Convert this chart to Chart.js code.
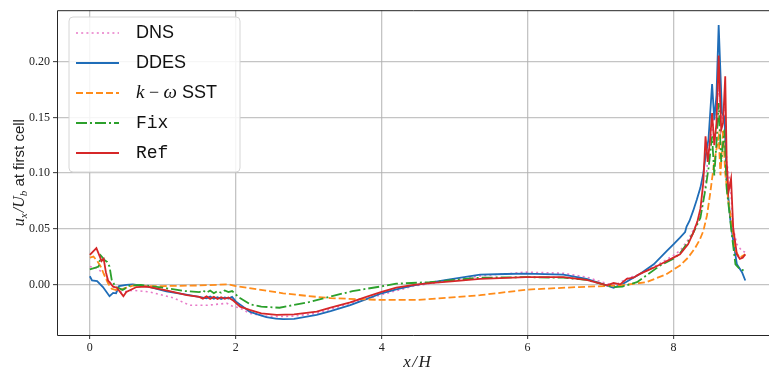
<!DOCTYPE html>
<html>
<head>
<meta charset="utf-8">
<script src="https://cdn.jsdelivr.net/npm/chart.js@4/dist/chart.umd.min.js"></script>
<style>
  html, body { margin: 0; padding: 0; background: #fff; }
  canvas { display: block; }
</style>
</head>
<body>
<canvas id="c" width="769" height="373"></canvas>
<script>
// series names, in legend order
const seriesNames = ['DNS', 'DDES', 'k − ω SST', 'Fix', 'Ref'];

const xTicks = [0, 2, 4, 6, 8];
const yTicks = [0.00, 0.05, 0.10, 0.15, 0.20];

// DNS
const dnsX = [0, 0.1, 0.2, 0.3, 0.37, 0.45, 0.59, 0.82, 1.14, 1.37, 1.6, 1.88, 1.95, 2.05, 2.19, 2.4, 2.56, 2.8, 3.11, 3.57,
  4.0, 4.44, 5.0, 5.35, 5.98, 6.49, 6.81, 7.09, 7.2, 7.35, 7.54, 7.82, 8.0, 8.1, 8.2, 8.3, 8.37, 8.44, 8.48, 8.53,
  8.58, 8.62, 8.665, 8.70, 8.73, 8.78, 8.82, 8.87, 8.94, 8.985];
const dnsY = [0.016, 0.0146, 0.0088, 0.0, -0.0068, -0.007, -0.0053, -0.0068, -0.012, -0.0188, -0.0188, -0.017, -0.0195, -0.021, -0.026, -0.0285, -0.029, -0.0285, -0.026, -0.017,
  -0.0093, -0.0015, 0.004, 0.0076, 0.011, 0.010, 0.0065, 0.0006, -0.001, 0.005, 0.009, 0.019, 0.026, 0.031, 0.040, 0.052, 0.063, 0.09, 0.12, 0.139,
  0.157, 0.175, 0.148, 0.16, 0.11, 0.09, 0.05, 0.036, 0.030, 0.029];

// DDES
const ddesX = [0, 0.03, 0.1, 0.18, 0.27, 0.32, 0.36, 0.4, 0.5, 0.59, 0.8, 1.05, 1.3, 1.5, 1.6, 1.65, 1.7, 1.75, 1.8, 1.85,
  1.9, 1.95, 2.0, 2.1, 2.19, 2.3, 2.42, 2.55, 2.65, 2.8, 3.11, 3.3, 3.57, 3.8, 4.0, 4.2, 4.44, 4.89, 5.35, 5.7,
  5.98, 6.49, 6.81, 7.04, 7.18, 7.31, 7.54, 7.73, 7.91, 8.0, 8.09, 8.16, 8.18, 8.22, 8.27, 8.32, 8.37, 8.41, 8.44, 8.48,
  8.53, 8.56, 8.59, 8.62, 8.665, 8.70, 8.73, 8.78, 8.82, 8.87, 8.94, 8.985];
const ddesY = [0.0073, 0.0035, 0.003, -0.0024, -0.0106, -0.0077, -0.008, -0.0016, -0.0005, 0.0, -0.002, -0.0062, -0.009, -0.0112, -0.0125, -0.011, -0.013, -0.0115, -0.0132, -0.0118,
  -0.0127, -0.0112, -0.0153, -0.020, -0.0245, -0.027, -0.0295, -0.0308, -0.0313, -0.031, -0.0274, -0.024, -0.0186, -0.013, -0.008, -0.0045, -0.0009, 0.004, 0.0088, 0.0093,
  0.0097, 0.0088, 0.005, 0.0, -0.003, 0.0006, 0.0094, 0.018, 0.030, 0.036, 0.042, 0.047, 0.052, 0.057, 0.066, 0.076, 0.087, 0.100, 0.115, 0.13,
  0.18, 0.148, 0.17, 0.233, 0.154, 0.15, 0.095, 0.058, 0.039, 0.018, 0.011, 0.0035];

// k-omega SST
const kwX = [0, 0.05, 0.1, 0.15, 0.2, 0.25, 0.3, 0.35, 0.42, 0.5, 0.6, 0.7, 1.0, 1.5, 1.9, 2.0, 2.3, 2.65, 3.0, 3.3,
  4.0, 4.5, 5.35, 6.0, 6.7, 7.27, 7.63, 7.9, 8.09, 8.2, 8.3, 8.36, 8.41, 8.46, 8.5, 8.56, 8.62, 8.645, 8.68, 8.71,
  8.755, 8.8, 8.85, 8.91, 8.985];
const kwY = [0.024, 0.025, 0.021, 0.016, 0.008, 0.001, -0.004, -0.005, -0.005, -0.003, -0.001, -0.0015, -0.0015, -0.001, 0.0, -0.0015, -0.0045, -0.008, -0.0105, -0.0124,
  -0.014, -0.014, -0.0097, -0.0047, -0.0024, -0.001, 0.002, 0.009, 0.017, 0.024, 0.033, 0.040, 0.048, 0.062, 0.08, 0.11, 0.133, 0.098, 0.139, 0.10,
  0.074, 0.055, 0.03, 0.024, 0.027];

// Fix
const fixX = [0, 0.08, 0.12, 0.15, 0.2, 0.24, 0.27, 0.3, 0.35, 0.45, 0.55, 0.7, 1.0, 1.3, 1.5, 1.55, 1.6, 1.65, 1.7, 1.75,
  1.8, 1.85, 1.9, 1.95, 2.05, 2.2, 2.35, 2.6, 3.0, 3.3, 3.6, 3.98, 4.2, 4.66, 5.35, 5.98, 6.49, 6.81, 7.04, 7.18,
  7.3, 7.5, 7.82, 8.0, 8.09, 8.18, 8.27, 8.37, 8.44, 8.48, 8.53, 8.56, 8.59, 8.62, 8.655, 8.70, 8.73, 8.77, 8.80, 8.85,
  8.91, 8.985];
const fixY = [0.0135, 0.015, 0.016, 0.026, 0.022, 0.02, 0.016, 0.004, -0.002, -0.005, -0.001, -0.0005, -0.003, -0.006, -0.007, -0.0055, -0.0075, -0.0055, -0.008, -0.006,
  -0.0075, -0.0055, -0.007, -0.006, -0.012, -0.018, -0.020, -0.021, -0.016, -0.011, -0.006, -0.002, 0.0006, 0.002, 0.006, 0.0065, 0.006, 0.004, 0.0, -0.0024,
  -0.002, 0.002, 0.017, 0.023, 0.028, 0.036, 0.046, 0.060, 0.086, 0.104, 0.133, 0.098, 0.127, 0.163, 0.11, 0.139, 0.086, 0.063, 0.045, 0.018,
  0.0137, 0.012];

// Ref
const refX = [0, 0.09, 0.14, 0.16, 0.19, 0.22, 0.25, 0.32, 0.37, 0.46, 0.5, 0.64, 0.78, 1.05, 1.33, 1.5, 1.55, 1.6, 1.65, 1.7,
  1.75, 1.8, 1.85, 1.9, 1.97, 2.06, 2.19, 2.35, 2.56, 2.8, 3.11, 3.3, 3.57, 3.8, 4.0, 4.2, 4.44, 4.66, 5.0, 5.35,
  5.98, 6.49, 6.81, 7.09, 7.18, 7.27, 7.36, 7.45, 7.54, 7.73, 7.91, 8.0, 8.09, 8.2, 8.27, 8.33, 8.37, 8.41, 8.44, 8.47,
  8.5, 8.53, 8.56, 8.59, 8.62, 8.655, 8.68, 8.71, 8.73, 8.755, 8.79, 8.82, 8.87, 8.91, 8.95, 8.985];
const refY = [0.0265, 0.0325, 0.0245, 0.021, 0.023, 0.011, 0.0035, -0.002, -0.003, -0.0106, -0.0068, -0.0024, -0.002, -0.0053, -0.0097, -0.0112, -0.0128, -0.0108, -0.013, -0.0112,
  -0.0132, -0.0115, -0.013, -0.0118, -0.0147, -0.020, -0.023, -0.026, -0.0274, -0.027, -0.0245, -0.021, -0.0162, -0.011, -0.0068, -0.003, -0.0005, 0.0012, 0.003, 0.005,
  0.0065, 0.0065, 0.0041, -0.0009, 0.0012, 0.0, 0.005, 0.006, 0.0094, 0.015, 0.021, 0.024, 0.027, 0.036, 0.046, 0.057, 0.068, 0.092, 0.133, 0.11,
  0.128, 0.154, 0.125, 0.145, 0.2056, 0.139, 0.145, 0.187, 0.11, 0.083, 0.095, 0.05, 0.027, 0.023, 0.024, 0.027];

const pts = (xs, ys) => xs.map((x, i) => ({ x: x, y: ys[i] }));

const SERIF = '"Liberation Serif", "DejaVu Serif", serif';
const SANS = '"Liberation Sans", Arial, sans-serif';
const MONO = '"Liberation Mono", "DejaVu Sans Mono", monospace';

const styles = [
  { color: '#e87ac8', dash: [2, 3.2], width: 1.6 },
  { color: '#1f6db8', dash: [], width: 1.8 },
  { color: '#ff8c1a', dash: [7, 3], width: 1.8 },
  { color: '#2ca02c', dash: [11, 3, 2, 3], width: 1.8 },
  { color: '#d62728', dash: [], width: 1.8 }
];

const series = [pts(dnsX, dnsY), pts(ddesX, ddesY), pts(kwX, kwY), pts(fixX, fixY), pts(refX, refY)];

const datasets = series.map((d, i) => ({
  label: seriesNames[i],
  data: d,
  borderColor: styles[i].color,
  borderDash: styles[i].dash,
  borderWidth: styles[i].width,
  pointRadius: 0,
  fill: false,
  tension: 0,
  order: 4 - i
}));

// draw text made of pieces with different fonts
function richWidth(ctx, segs) {
  let w = 0;
  segs.forEach(s => { ctx.font = s.font; w += ctx.measureText(s.t).width + (s.gap || 0); });
  return w;
}
function drawRich(ctx, segs, x, y) {
  segs.forEach(s => {
    ctx.font = s.font;
    ctx.fillText(s.t, x, y + (s.dy || 0));
    x += ctx.measureText(s.t).width + (s.gap || 0);
  });
}

function legendSegs(name) {
  if (name.indexOf('ω') >= 0) {
    return [
      { t: 'k', font: 'italic 19px ' + SERIF },
      { t: ' − ', font: '18px ' + SERIF },
      { t: 'ω', font: 'italic 19px ' + SERIF },
      { t: ' SST', font: '18px ' + SANS }
    ];
  }
  if (name === 'Fix' || name === 'Ref') return [{ t: name, font: '18px ' + MONO }];
  return [{ t: name, font: '18px ' + SANS }];
}

const extras = {
  id: 'extras',
  afterDatasetsDraw(chart) {
    const ctx = chart.ctx;
    const a = chart.chartArea;
    ctx.save();
    // spines
    ctx.strokeStyle = '#262626';
    ctx.lineWidth = 1;
    ctx.beginPath();
    ctx.moveTo(a.right + 5, a.top + 0.5);
    ctx.lineTo(a.left + 0.5, a.top + 0.5);
    ctx.lineTo(a.left + 0.5, a.bottom + 0.5);
    ctx.lineTo(a.right + 5, a.bottom + 0.5);
    ctx.stroke();

    // legend
    const bx = 69, by = 17, bw = 171, bh = 155, r = 4;
    ctx.beginPath();
    ctx.moveTo(bx + r, by);
    ctx.arcTo(bx + bw, by, bx + bw, by + bh, r);
    ctx.arcTo(bx + bw, by + bh, bx, by + bh, r);
    ctx.arcTo(bx, by + bh, bx, by, r);
    ctx.arcTo(bx, by, bx + bw, by, r);
    ctx.closePath();
    ctx.fillStyle = 'rgba(255,255,255,0.85)';
    ctx.fill();
    ctx.strokeStyle = '#d6d6d6';
    ctx.lineWidth = 1;
    ctx.stroke();

    chart.data.datasets.forEach((ds, i) => {
      const yy = 33 + i * 30;
      ctx.strokeStyle = ds.borderColor;
      ctx.lineWidth = ds.borderWidth;
      ctx.setLineDash(ds.borderDash);
      ctx.beginPath();
      ctx.moveTo(76, yy);
      ctx.lineTo(119, yy);
      ctx.stroke();
      ctx.setLineDash([]);
      ctx.fillStyle = '#111';
      ctx.textBaseline = 'middle';
      drawRich(ctx, legendSegs(ds.label), 136, yy);
    });

    // x title
    ctx.fillStyle = '#222';
    ctx.textBaseline = 'middle';
    const xs = [
      { t: 'x', font: 'italic 17px ' + SERIF, gap: 1.5 },
      { t: '/', font: 'italic 17px ' + SERIF, gap: 1.5 },
      { t: 'H', font: 'italic 17px ' + SERIF }
    ];
    drawRich(ctx, xs, 417 - richWidth(ctx, xs) / 2, 363);

    // y title
    const ys = [
      { t: 'u', font: 'italic 16px ' + SERIF },
      { t: 'x', font: 'italic 11px ' + SERIF, dy: 4, gap: 1 },
      { t: '/', font: 'italic 16px ' + SERIF },
      { t: 'U', font: 'italic 16px ' + SERIF },
      { t: 'b', font: 'italic 11px ' + SERIF, dy: 4 },
      { t: ' at first cell', font: '15px ' + SANS }
    ];
    ctx.translate(20, (a.top + a.bottom) / 2);
    ctx.rotate(-Math.PI / 2);
    drawRich(ctx, ys, -richWidth(ctx, ys) / 2, 0);
    ctx.restore();
  }
};

new Chart(document.getElementById('c'), {
  type: 'line',
  data: { datasets: datasets },
  options: {
    responsive: false,
    animation: false,
    devicePixelRatio: 1,
    layout: { padding: { top: 6, right: 0, left: 0, bottom: 0 } },
    plugins: { legend: { display: false }, tooltip: { enabled: false } },
    scales: {
      x: {
        type: 'linear',
        min: -0.45,
        max: 9.31,
        afterFit: s => { s.height = 38; },
        afterBuildTicks: s => { s.ticks = xTicks.map(v => ({ value: v })); },
        grid: { color: 'rgba(176,176,176,0.75)', lineWidth: 1.3, tickLength: 4, tickColor: '#333', tickWidth: 1 },
        border: { display: false },
        ticks: { font: { family: SERIF, size: 12 }, color: '#222', padding: 2, maxRotation: 0,
          callback: v => String(v) }
      },
      y: {
        type: 'linear',
        min: -0.0455,
        max: 0.2464,
        afterFit: s => { s.width = 57; },
        afterBuildTicks: s => { s.ticks = yTicks.map(v => ({ value: v })); },
        grid: { color: 'rgba(176,176,176,0.75)', lineWidth: 1.3, tickLength: 4, tickColor: '#333', tickWidth: 1 },
        border: { display: false },
        ticks: { font: { family: SERIF, size: 12 }, color: '#222', padding: 3,
          callback: v => v.toFixed(2) }
      }
    }
  },
  plugins: [extras]
});
</script>
</body>
</html>
